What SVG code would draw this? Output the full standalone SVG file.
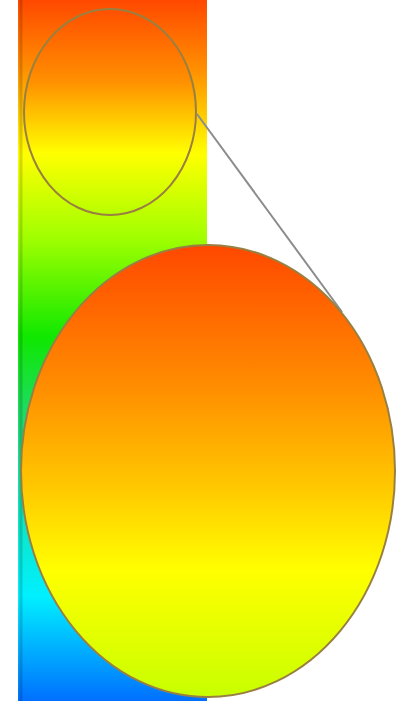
<svg xmlns="http://www.w3.org/2000/svg" width="401" height="701" viewBox="0 0 401 701">
<defs>
<linearGradient id="bar" x1="0" y1="0" x2="0" y2="701" gradientUnits="userSpaceOnUse">
<stop offset="0" stop-color="#ff4800"/>
<stop offset="0.1" stop-color="#ff9000"/>
<stop offset="0.22" stop-color="#ffff00"/>
<stop offset="0.34" stop-color="#a0ff00"/>
<stop offset="0.48" stop-color="#10e800"/>
<stop offset="0.62" stop-color="#20d880"/>
<stop offset="0.85" stop-color="#00f0ff"/>
<stop offset="1" stop-color="#0070ff"/>
</linearGradient>
<linearGradient id="small" x1="0" y1="10" x2="0" y2="215" gradientUnits="userSpaceOnUse">
<stop offset="0" stop-color="#ff5000"/>
<stop offset="0.35" stop-color="#ff9000"/>
<stop offset="0.7" stop-color="#ffff00"/>
<stop offset="1" stop-color="#b8ff00"/>
</linearGradient>
<linearGradient id="big" x1="0" y1="245" x2="0" y2="697" gradientUnits="userSpaceOnUse">
<stop offset="0" stop-color="#ff4800"/>
<stop offset="0.3" stop-color="#ff8a00"/>
<stop offset="0.55" stop-color="#ffcc00"/>
<stop offset="0.72" stop-color="#ffff00"/>
<stop offset="1" stop-color="#c8ff00"/>
</linearGradient>
<style>
.lens{stroke:#9a8040;stroke-width:2}
.conn{stroke:#8c8c8c;stroke-width:2;fill:none}
</style>
</defs>
<g id="bar-node">
<rect x="18" y="0" width="189" height="701" fill="url(#bar)"/>
<line x1="21" y1="0" x2="21" y2="701" stroke="#000" stroke-opacity="0.15" stroke-width="3"/>
</g>
<g id="connectors">
<line class="conn" x1="197" y1="114" x2="342" y2="312"/>
</g>
<g id="small-lens">
<ellipse class="lens" cx="110" cy="112" rx="86" ry="103" fill="url(#small)"/>
</g>
<g id="big-lens">
<ellipse class="lens" cx="208" cy="471" rx="187" ry="226" fill="url(#big)"/>
</g>
</svg>
